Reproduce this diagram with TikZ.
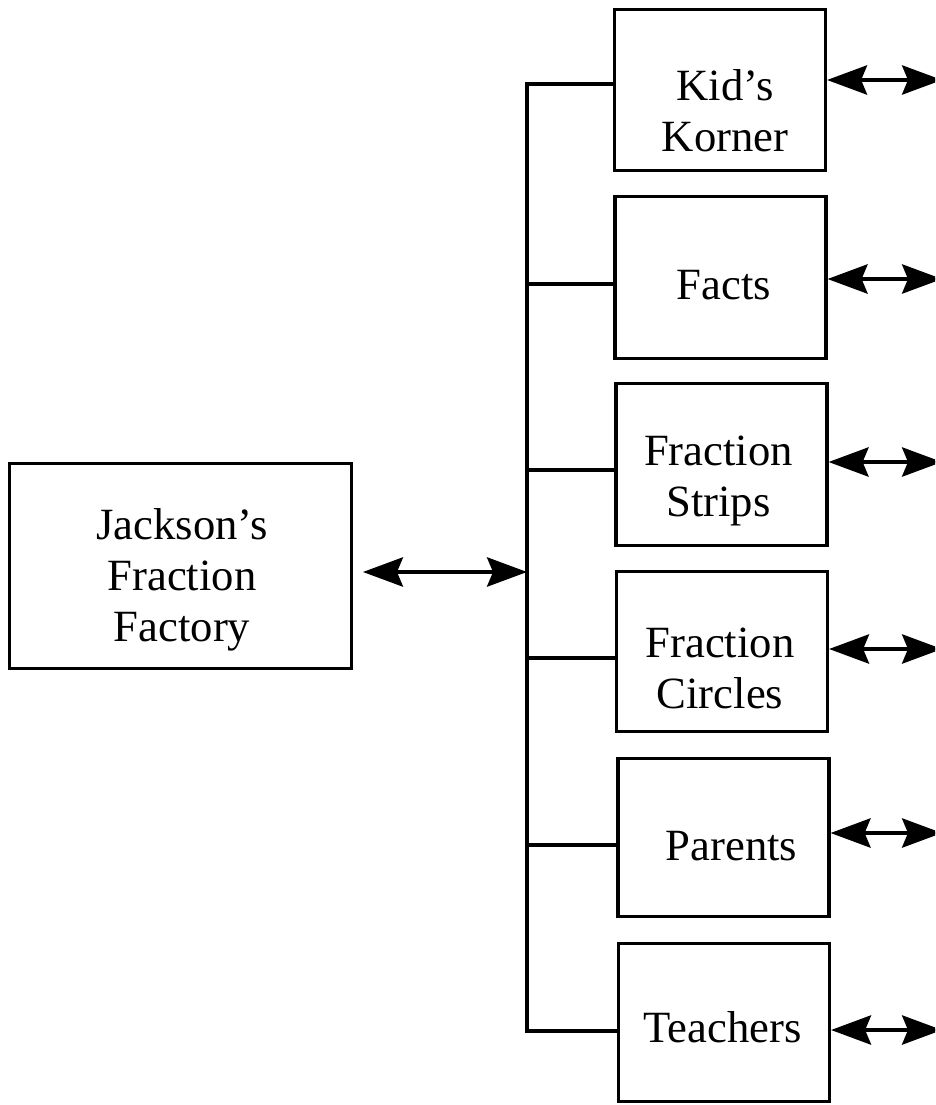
\documentclass[tikz,border=0pt]{standalone}
\usepackage{fontspec}
\setmainfont{Liberation Serif}
\usetikzlibrary{arrows.meta,positioning}
\tikzset{
  box/.style={draw, rectangle, line width=2.4pt, minimum width=158.25pt, inner sep=0pt},
  lbl/.style={font=\fontsize{33.5}{38.25}\selectfont, align=center, text depth=0pt, inner sep=0pt},
  arr/.style={{Stealth[length=30pt, width=22pt, inset=4.5pt]}-{Stealth[length=30pt, width=22pt, inset=4.5pt]}, line width=2.4pt},
  bus/.style={line width=2.4pt},
}

\begin{document}
\begin{tikzpicture}[x=0.75pt, y=-0.75pt]
\useasboundingbox (0,0) rectangle (935,1105);
\clip (0,0) rectangle (935,1105);
% main box
\node[box, minimum width=256.5pt, minimum height=153.75pt,
  label={[lbl, shift={(1.5,9)}]center:Jackson's\\Fraction\\Factory}] (jff) at (180.5,566) {};
% pages
\node[box, minimum height=120.75pt, label={[lbl, shift={(5,21)}]center:Kid's\\Korner}] (kid) at (720,90) {};
\node[box, minimum height=121.5pt, label={[lbl, shift={(3.5,7.5)}]center:Facts}] (facts) at (720.5,277.5) {};
\node[box, minimum height=121.5pt, label={[lbl, shift={(-3,11.5)}]center:Fraction\\Strips}] (strips) at (721.5,464.5) {};
\node[box, minimum height=120pt, label={[lbl, shift={(-2,16.5)}]center:Fraction\\Circles}] (circles) at (722,651.5) {};
\node[box, minimum height=118.5pt, label={[lbl, shift={(8,8.5)}]center:Parents}] (parents) at (723.5,837.5) {};
\node[box, minimum height=118.5pt, label={[lbl, shift={(-1.5,4.5)}]center:Teachers}] (teach) at (724,1022.5) {};
% bus
\coordinate (busT) at (527,84);
\coordinate (busB) at (527,1031);
\coordinate (hub) at (527,572);
\draw[bus] (kid.west |- busT) -- (busT) -- (busB) -- (teach.west |- busB);
\draw[bus] (busT |- 0,284) -- (facts.west |- 0,284);
\draw[bus] (busT |- 0,470) -- (strips.west |- 0,470);
\draw[bus] (busT |- 0,658) -- (circles.west |- 0,658);
\draw[bus] (busT |- 0,845) -- (parents.west |- 0,845);
% arrows
\coordinate (jffE) at (363,572);
\draw[arr] (jffE) -- (hub);
\coordinate (kidE) at (942,80);
\coordinate (factsE) at (942,279);
\coordinate (stripsE) at (942,462);
\coordinate (circlesE) at (942,649);
\coordinate (parentsE) at (942,833);
\coordinate (teachE) at (942,1030);
\draw[arr] (kid.east |- kidE) -- (kidE);
\draw[arr] (facts.east |- factsE) -- (factsE);
\draw[arr] (strips.east |- stripsE) -- (stripsE);
\draw[arr] (circles.east |- circlesE) -- (circlesE);
\draw[arr] (parents.east |- parentsE) -- (parentsE);
\draw[arr] (teach.east |- teachE) -- (teachE);
\end{tikzpicture}
\end{document}
